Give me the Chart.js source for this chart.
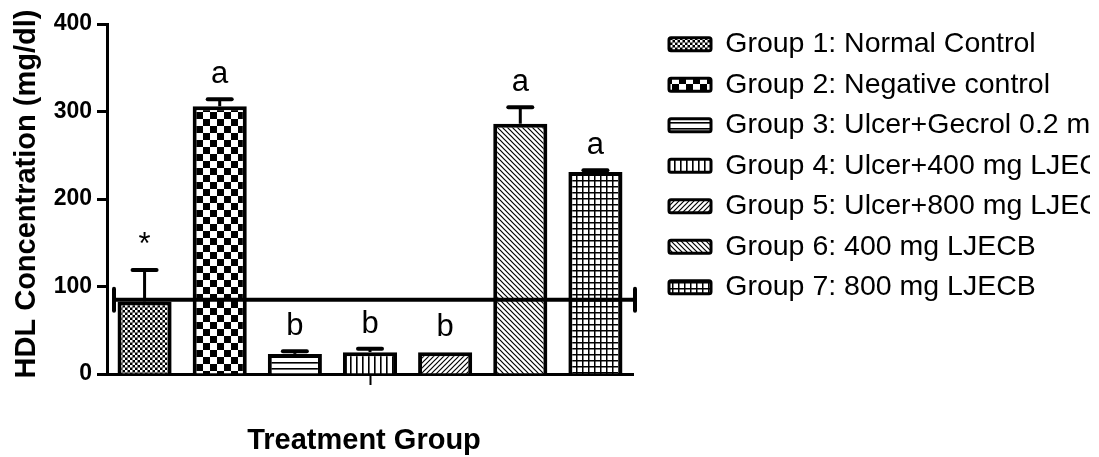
<!DOCTYPE html>
<html>
<head>
<meta charset="utf-8">
<title>HDL Concentration by Treatment Group</title>
<script src="https://cdn.jsdelivr.net/npm/chart.js@4.4.1/dist/chart.umd.min.js"></script>
<style>
  html, body { margin: 0; padding: 0; background: #fff; overflow: hidden; }
  #chart { display: block; }
</style>
</head>
<body>
<canvas id="chart" width="1090" height="457"></canvas>
<script>
// group names, mean HDL (mg/dl), SEM and significance letters
const groups = [
  'Group 1: Normal Control',
  'Group 2: Negative control',
  'Group 3: Ulcer+Gecrol 0.2 ml/kg',
  'Group 4: Ulcer+400 mg LJECB',
  'Group 5: Ulcer+800 mg LJECB',
  'Group 6: 400 mg LJECB',
  'Group 7: 800 mg LJECB'
];
const hdlMean = [83, 306, 23, 25, 25, 286, 231];
const hdlSem = [36, 8, 3, 4, 0, 19, 2];
const sigLetters = ['*', 'a', 'b', 'b', 'b', 'a', 'a'];
const refLevel = 85;
const yTicks = [0, 100, 200, 300, 400];

const FONT = 'Arial, "Liberation Sans", sans-serif';
Chart.defaults.font.family = FONT;
Chart.defaults.color = '#000';

// small repeating fills, black on white
function tile(w, h, paint){
  const c = document.createElement('canvas');
  c.width = w; c.height = h;
  const g = c.getContext('2d');
  g.fillStyle = '#fff'; g.fillRect(0, 0, w, h);
  g.fillStyle = '#000'; g.strokeStyle = '#000';
  paint(g, w, h);
  return g.createPattern(c, 'repeat');
}
const fills = [
  // fine checker
  tile(10, 10, g => {
    g.fillRect(0, 0, 10, 10);
    g.fillStyle = '#fff';
    for(let i = 0; i < 2; i++) for(let j = 0; j < 2; j++){
      g.fillRect(i*5, j*5, 2.5, 2.5);
      g.fillRect(i*5 + 2.5, j*5 + 2.5, 2.5, 2.5);
    }
  }),
  // coarse checker
  tile(14, 14, g => { g.fillRect(0, 0, 7, 7); g.fillRect(7, 7, 7, 7); }),
  // horizontal lines
  tile(6, 6, g => g.fillRect(0, 2, 6, 1.6)),
  // vertical lines
  tile(6, 6, g => g.fillRect(2, 0, 1.6, 6)),
  // forward diagonal
  tile(5, 5, g => {
    g.lineWidth = 1.2;
    g.beginPath();
    g.moveTo(0, 5); g.lineTo(5, 0);
    g.moveTo(-1, 1); g.lineTo(1, -1);
    g.moveTo(4, 6); g.lineTo(6, 4);
    g.stroke();
  }),
  // backward diagonal
  tile(5, 5, g => {
    g.lineWidth = 1.2;
    g.beginPath();
    g.moveTo(0, 0); g.lineTo(5, 5);
    g.moveTo(-1, 4); g.lineTo(1, 6);
    g.moveTo(4, -1); g.lineTo(6, 1);
    g.stroke();
  }),
  // grid
  tile(6, 6, g => { g.fillRect(0, 0, 6, 1.5); g.fillRect(0, 0, 1.5, 6); })
];

// error bars, letters and the horizontal reference bar
const groupMarks = {
  id: 'groupMarks',
  afterDatasetsDraw(chart){
    const {ctx, chartArea, scales: {y}} = chart;
    const bars = chart.getDatasetMeta(0).data;
    ctx.save();
    ctx.strokeStyle = '#000';
    ctx.fillStyle = '#000';
    bars.forEach((bar, i) => {
      const top = y.getPixelForValue(hdlMean[i] + hdlSem[i]);
      if(hdlSem[i] > 0){
        ctx.lineWidth = 3; ctx.lineCap = 'butt';
        ctx.beginPath(); ctx.moveTo(bar.x, bar.y); ctx.lineTo(bar.x, top); ctx.stroke();
        ctx.lineWidth = 4; ctx.lineCap = 'round';
        ctx.beginPath(); ctx.moveTo(bar.x - 12, top); ctx.lineTo(bar.x + 12, top); ctx.stroke();
      }
      ctx.font = '31px ' + FONT;
      ctx.textAlign = 'center';
      ctx.textBaseline = 'alphabetic';
      ctx.fillText(sigLetters[i], bar.x, top - 16);
    });

    const ly = y.getPixelForValue(refLevel);
    const x0 = chartArea.left + 7, x1 = chartArea.right + 2;
    ctx.lineWidth = 4; ctx.lineCap = 'butt';
    ctx.beginPath(); ctx.moveTo(x0, ly); ctx.lineTo(x1, ly); ctx.stroke();
    ctx.lineCap = 'round';
    [x0, x1].forEach(x => {
      ctx.beginPath(); ctx.moveTo(x, ly - 11); ctx.lineTo(x, ly + 11); ctx.stroke();
    });
    ctx.restore();
  },
  afterDraw(chart){
    const {ctx} = chart;
    ctx.save();
    ctx.fillStyle = '#000';
    ctx.font = 'bold 29px ' + FONT;
    ctx.textAlign = 'center';
    ctx.textBaseline = 'middle';
    ctx.fillText('Treatment Group', 364, 441);
    ctx.translate(27, 194);
    ctx.rotate(-Math.PI / 2);
    ctx.fillText('HDL Concentration (mg/dl)', 0, 0);
    ctx.restore();
  }
};

const centreTick = Math.floor(groups.length / 2);

new Chart(document.getElementById('chart'), {
  type: 'bar',
  data: {
    labels: groups,
    datasets: [{
      label: 'HDL',
      data: hdlMean,
      backgroundColor: fills,
      borderColor: '#000',
      borderWidth: 4,
      barPercentage: 0.72,
      categoryPercentage: 1.0
    }]
  },
  options: {
    responsive: false,
    animation: false,
    events: [],
    layout: { padding: { top: 18, left: 0, right: 0, bottom: 0 } },
    scales: {
      x: {
        type: 'category',
        offset: true,
        grid: {
          display: true, drawOnChartArea: false, offset: false,
          tickLength: 11, tickWidth: 2,
          tickColor: c => c.index === centreTick ? '#000' : 'rgba(0,0,0,0)'
        },
        border: { color: '#000', width: 3 },
        ticks: { display: false },
        afterFit(s){ s.height = 83; }
      },
      y: {
        min: 0, max: 400,
        afterBuildTicks(s){ s.ticks = yTicks.map(v => ({value: v})); },
        ticks: { font: { size: 23, weight: 'bold' }, color: '#000', padding: 5 },
        grid: { drawOnChartArea: false, tickLength: 10, tickWidth: 3, tickColor: '#000' },
        border: { color: '#000', width: 3 },
        afterFit(s){ s.width = 107; }
      },
      // empty spacers above the plot and between plot and legend
      padTop: {
        axis: 'x', type: 'linear', position: 'top', display: true,
        grid: { display: false }, border: { display: false }, ticks: { display: false },
        afterFit(s){ s.height = 6; }
      },
      padRight: {
        axis: 'y', type: 'linear', position: 'right', display: true,
        grid: { display: false }, border: { display: false }, ticks: { display: false },
        afterFit(s){ s.width = 24; }
      }
    },
    plugins: {
      tooltip: { enabled: false },
      legend: {
        position: 'right',
        align: 'start',
        maxWidth: 433,
        labels: {
          boxWidth: 42,
          boxHeight: 13,
          padding: 12,
          color: '#000',
          font: { size: 28.5 },
          generateLabels: chart => chart.data.labels.map((text, i) => ({
            text,
            fillStyle: fills[i],
            strokeStyle: '#000',
            lineWidth: 3,
            borderRadius: 2,
            fontColor: '#000',
            hidden: false,
            index: i
          }))
        }
      }
    }
  },
  plugins: [groupMarks]
});
</script>
</body>
</html>
